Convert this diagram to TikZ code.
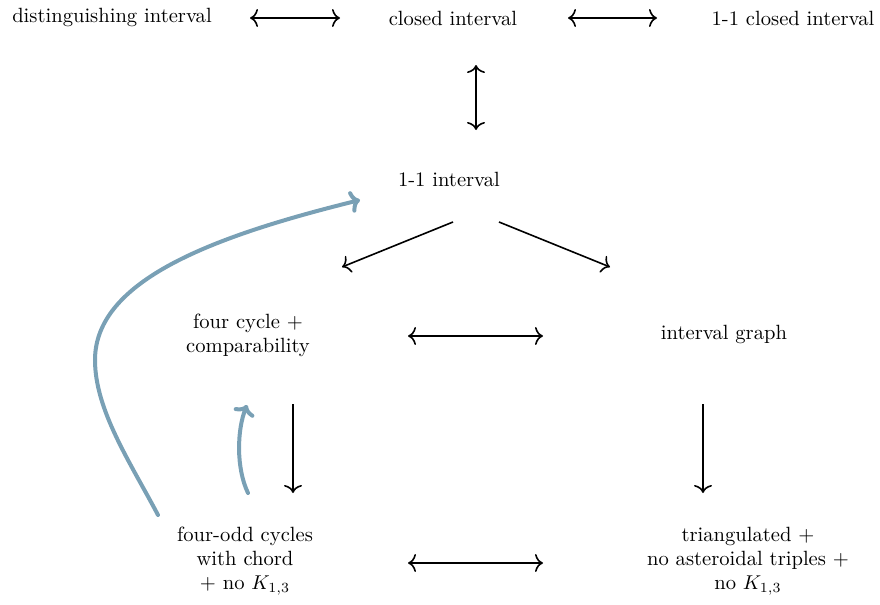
\documentclass[tikz,border=0pt]{standalone}
\usepackage{tikz}
\usetikzlibrary{positioning, arrows.meta}
\definecolor{chainblue}{RGB}{121,160,181}

\begin{document}
\begin{tikzpicture}[
    x=0.5pt, y=-0.5pt,
    >={Computer Modern Rightarrow[length=4pt, width=9pt]},
    class/.style={align=center, inner sep=0pt, font=\fontsize{10.3}{12}\selectfont},
    equiv/.style={<->, line width=0.8pt},
    implies/.style={->, line width=0.8pt},
    reduction/.style={-{Computer Modern Rightarrow[length=5pt, width=11pt, line cap=round]}, line width=2pt, line cap=round, draw=chainblue}
]
    \useasboundingbox (0,0) rectangle (880,605);

    % Top row
    \node[class] (dist) at (112,17) {distinguishing interval};
    \node[class] (closed) at (453,18) {closed interval};
    \node[class] (closedone) at (793,18) {1-1 closed interval};

    % Middle
    \node[class] (oneone) at (449,179) {1-1 interval};
    \node[class] (fourcycle) at (248,335) {four cycle +\\ comparability};
    \node[class] (intgraph) at (724,334) {interval graph};

    % Bottom row
    \node[class] (fourodd) at (245,561) {four-odd cycles\\ with chord\\ + no $K_{1,3}$};
    \node[class] (triang) at (748,561) {triangulated +\\ no asteroidal triples +\\ no $K_{1,3}$};

    % Equivalences
    \draw[equiv] ([shift={(138,1)}]dist.center) -- ([shift={(-113,0)}]closed.center);
    \draw[equiv] ([shift={(115,0)}]closed.center) -- ([shift={(-136,0)}]closedone.center);
    \draw[equiv] ([shift={(23,47)}]closed.center) -- ([shift={(27,-49)}]oneone.center);
    \draw[equiv] ([shift={(160,1)}]fourcycle.center) -- ([shift={(-181,2)}]intgraph.center);
    \draw[equiv] ([shift={(163,2)}]fourodd.center) -- ([shift={(-205,2)}]triang.center);

    % Implications
    \draw[implies] ([shift={(4,43)}]oneone.center) -- ([shift={(94,-68)}]fourcycle.center);
    \draw[implies] ([shift={(50,43)}]oneone.center) -- ([shift={(-114,-67)}]intgraph.center);
    \draw[implies] ([shift={(45,69)}]fourcycle.center) -- ([shift={(48,-68)}]fourodd.center);
    \draw[implies] ([shift={(-21,70)}]intgraph.center) -- ([shift={(-45,-68)}]triang.center);

    % Reductions
    \coordinate (bend) at (95,360);
    \draw[reduction] ([shift={(-87,-46)}]fourodd.center) .. controls +(-28,-53) and +(0,50) .. (bend)
        .. controls +(0,-80) and +(-146,36) .. ([shift={(-89,21)}]oneone.center);
    \draw[reduction] ([shift={(3,-68)}]fourodd.center) .. controls +(-12,-25) and +(-10,25) .. ([shift={(-1,70)}]fourcycle.center);
\end{tikzpicture}
\end{document}
